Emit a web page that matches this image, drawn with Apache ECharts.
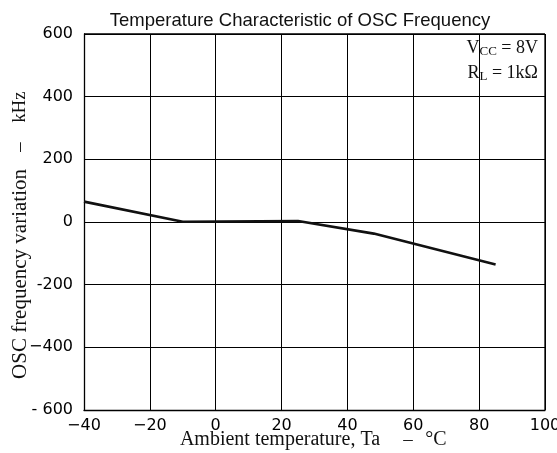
<!DOCTYPE html>
<html><head><meta charset="utf-8">
<script src="https://cdn.jsdelivr.net/npm/echarts@6/dist/echarts.min.js"></script>
<style>html,body{margin:0;padding:0;background:#fff}#c{width:557px;height:453px}</style>
</head><body><div id="c"></div>
<script>
const temps = [-40, -10, 25, 48, 85];
const freqVar = [65, 1, 3, -37, -136];
const xTickLabels = {"-40":"\u221240","-20":"\u221220","0":"0","20":"20","40":"40","60":"60","80":"80","100":"100"};
const yTickLabels = {"600":"600","400":"400","200":"200","0":"0","-200":"-200","-400":"\u2212400","-600":"- 600"};
const chart = echarts.init(document.getElementById('c'), null, {renderer:'canvas'});
const tickFont = {color:'#000', fontFamily:'DejaVu Sans', fontSize:16, fontWeight:'normal'};
const serif = {fontFamily:'Liberation Serif', fill:'#111', verticalAlign:'middle'};
chart.setOption({
  animation:false,
  backgroundColor:'#fff',
  title:{text:'Temperature Characteristic of OSC Frequency', left:295, top:6, textAlign:'center',
    textStyle:{fontFamily:'Liberation Sans', fontSize:18.5, fontWeight:'normal', color:'#111'}},
  grid:{left:84, right:12, top:34, bottom:43, containLabel:false, outerBoundsMode:'none'},
  xAxis:{type:'value', min:-40, max:100, interval:20,
    axisLine:{show:true, onZero:false, lineStyle:{color:'#000', width:1.3}},
    axisTick:{show:false},
    splitLine:{show:true, lineStyle:{color:'#000', width:1}},
    axisLabel:Object.assign({margin:8, formatter:v=>xTickLabels[String(v)]}, tickFont)},
  yAxis:{type:'value', min:-600, max:600, interval:200,
    axisLine:{show:true, onZero:false, lineStyle:{color:'#000', width:1.3}},
    axisTick:{show:false},
    splitLine:{show:true, lineStyle:{color:'#000', width:1}},
    axisLabel:Object.assign({margin:11, formatter:v=>yTickLabels[String(v)]}, tickFont)},
  graphic:[
    {type:'rect', shape:{x:545, y:34, width:0, height:376}, style:{stroke:'#000', lineWidth:1.3}},
    {type:'rect', shape:{x:84, y:34, width:461, height:0}, style:{stroke:'#000', lineWidth:1.3}},
    {type:'text', x:280, y:440, style:Object.assign({text:'Ambient temperature, Ta', fontSize:20, align:'center'}, serif)},
    {type:'text', x:408, y:440, style:Object.assign({text:'\u2013', fontSize:19, align:'center'}, serif)},
    {type:'text', x:436, y:440, style:Object.assign({text:'\u00b0C', fontSize:20, align:'center'}, serif)},
    {type:'text', x:20, y:274, rotation:Math.PI/2, style:Object.assign({text:'OSC frequency variation', fontSize:21, align:'center'}, serif)},
    {type:'text', x:20, y:147, rotation:Math.PI/2, style:Object.assign({text:'\u2013', fontSize:19, align:'center'}, serif)},
    {type:'text', x:20, y:107, rotation:Math.PI/2, style:Object.assign({text:'kHz', fontSize:18.5, align:'center'}, serif)},
    {type:'text', x:538, y:48, style:{
      text:'{a|V}{s|CC}{a| = 8V}', align:'right', verticalAlign:'middle',
      rich:{a:{fontFamily:'Liberation Serif', fontSize:18, fill:'#111'}, s:{fontFamily:'Liberation Serif', fontSize:13, fill:'#111', padding:[8,0,0,0]}}}},
    {type:'text', x:538, y:73, style:{
      text:'{a|R}{s|L}{a| = 1k\u03a9}', align:'right', verticalAlign:'middle',
      rich:{a:{fontFamily:'Liberation Serif', fontSize:18, fill:'#111'}, s:{fontFamily:'Liberation Serif', fontSize:13, fill:'#111', padding:[8,0,0,0]}}}}
  ],
  series:[{type:'line', data:temps.map((t,i)=>[t,freqVar[i]]), symbol:'none',
    lineStyle:{color:'#111', width:2.6}}]
});
</script></body></html>
